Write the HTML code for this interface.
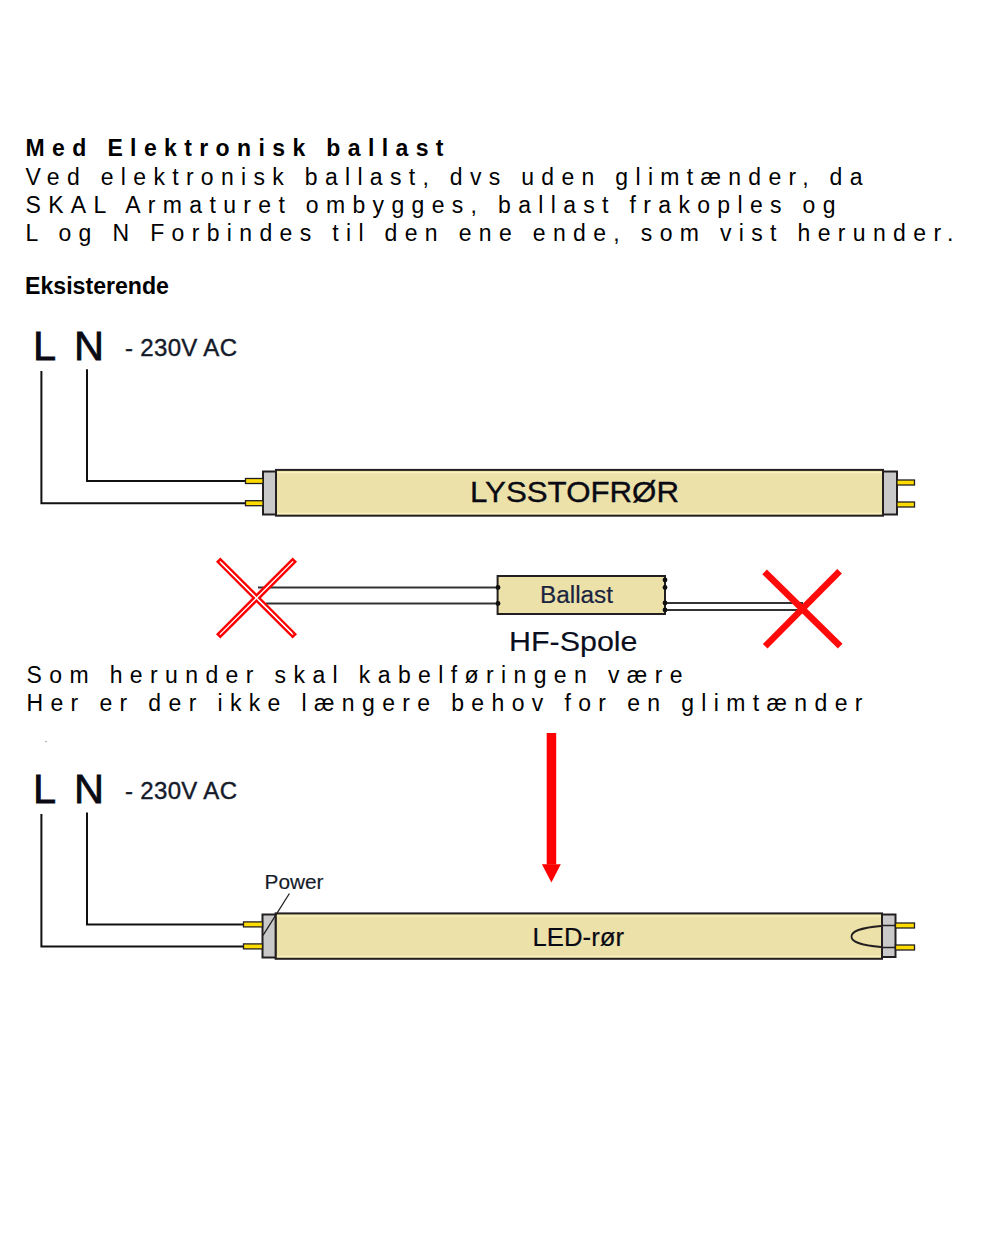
<!DOCTYPE html>
<html><head><meta charset="utf-8">
<style>
html,body{margin:0;padding:0;background:#fff;}
body{width:1000px;height:1239px;overflow:hidden;position:relative;}
svg{position:absolute;left:0;top:0;display:block;}
text{font-family:"Liberation Sans", sans-serif;}
</style></head><body>
<svg width="1000" height="1239" viewBox="0 0 1000 1239">
<!-- Paragraph 1 -->
<g fill="#000">
<text transform="translate(25.5,156) scale(1,1.04)" font-size="23" font-weight="bold" textLength="418" lengthAdjust="spacing">Med Elektronisk ballast</text>
<text transform="translate(25.5,184.6) scale(1,1.03)" font-size="23" textLength="837" lengthAdjust="spacing">Ved elektronisk ballast, dvs uden glimtænder, da</text>
<text transform="translate(25.5,212.6) scale(1,1.03)" font-size="23" textLength="810" lengthAdjust="spacing">SKAL Armaturet ombygges, ballast frakoples og</text>
<text transform="translate(25.5,241.2) scale(1,1.03)" font-size="23" textLength="928" lengthAdjust="spacing">L og N Forbindes til den ene ende, som vist herunder.</text>
<text x="25" y="293.8" font-size="23" font-weight="bold" textLength="144" lengthAdjust="spacingAndGlyphs">Eksisterende</text>
</g>

<!-- Diagram 1 -->
<g id="d1">
<text x="33" y="359.8" font-size="41.5" fill="#0a0a14" stroke="#0a0a14" stroke-width="0.8">L</text>
<text x="74" y="359.8" font-size="41.5" fill="#0a0a14" stroke="#0a0a14" stroke-width="0.8">N</text>
<text x="125" y="356" font-size="24" fill="#141a2a" stroke="#141a2a" stroke-width="0.4" textLength="112" lengthAdjust="spacing">- 230V AC</text>
<polyline points="41.4,371 41.4,503.2 245,503.2" fill="none" stroke="#111" stroke-width="2"/>
<polyline points="87,369.3 87,481 245,481" fill="none" stroke="#111" stroke-width="2"/>
<!-- tube -->
<rect x="276" y="469.9" width="607" height="45.8" fill="#ECE1A9" stroke="#231F20" stroke-width="2"/>
<line x1="277" y1="472.6" x2="882" y2="472.6" stroke="#FAF3BE" stroke-width="1.3"/>
<line x1="277" y1="513.3" x2="882" y2="513.3" stroke="#FAF3BE" stroke-width="1.3"/>
<rect x="263" y="471.5" width="13" height="43" fill="#C9C9C9" stroke="#231F20" stroke-width="2"/>
<rect x="883" y="471.5" width="14" height="43" fill="#C9C9C9" stroke="#231F20" stroke-width="2"/>
<rect x="245.5" y="478.5" width="17.5" height="5" fill="#FFDC00" stroke="#231F20" stroke-width="1.3"/>
<rect x="245.5" y="500.7" width="17.5" height="5" fill="#FFDC00" stroke="#231F20" stroke-width="1.3"/>
<rect x="897" y="480" width="17.5" height="5" fill="#FFDC00" stroke="#231F20" stroke-width="1.3"/>
<rect x="897" y="502" width="17.5" height="5" fill="#FFDC00" stroke="#231F20" stroke-width="1.3"/>
<text x="470" y="502.4" font-size="30" fill="#0a0a14" stroke="#0a0a14" stroke-width="0.35" textLength="209" lengthAdjust="spacingAndGlyphs">LYSSTOFRØR</text>
</g>

<!-- Ballast -->
<g>
<line x1="258" y1="587.5" x2="498" y2="587.5" stroke="#333" stroke-width="2"/>
<line x1="266" y1="603.5" x2="498" y2="603.5" stroke="#333" stroke-width="2"/>
<line x1="665" y1="603" x2="803" y2="603" stroke="#333" stroke-width="2"/>
<line x1="665" y1="610" x2="798" y2="610" stroke="#333" stroke-width="2"/>
<rect x="497.6" y="576" width="167.4" height="38" fill="#ECE1A9" stroke="#231F20" stroke-width="2"/>
<g fill="#111">
<circle cx="498" cy="587.5" r="2.4"/><circle cx="498" cy="603.5" r="2.4"/>
<circle cx="665" cy="580" r="2.4"/><circle cx="665" cy="587.5" r="2.4"/>
<circle cx="665" cy="603" r="2.4"/><circle cx="665" cy="610" r="2.4"/>
</g>
<text x="540" y="603" font-size="23.5" fill="#1a2440" stroke="#1a2440" stroke-width="0.2" textLength="73" lengthAdjust="spacingAndGlyphs">Ballast</text>
<text x="509" y="651" font-size="28.5" fill="#0a0f20" stroke="#0a0f20" stroke-width="0.15" textLength="128.5" lengthAdjust="spacingAndGlyphs">HF-Spole</text>
<!-- left X hollow -->
<g transform="translate(256.5,598)">
<rect x="-53" y="-1.9" width="106" height="3.8" fill="#fff" stroke="#ff0000" stroke-width="2.4" transform="rotate(45)"/>
<rect x="-53" y="-1.9" width="106" height="3.8" fill="#fff" stroke="#ff0000" stroke-width="2.4" transform="rotate(-45)"/>
<rect x="-50" y="-0.7" width="100" height="1.4" fill="#fff" transform="rotate(45)"/>
</g>
<!-- right X solid -->
<g stroke="#ff0a0a" stroke-width="6.6">
<line x1="764.6" y1="571.8" x2="840.2" y2="646.2"/>
<line x1="839.6" y1="571.2" x2="765.2" y2="646.2"/>
</g>
</g>

<!-- Paragraph 2 -->
<g fill="#000">
<text transform="translate(26.5,682.7) scale(1,1.03)" font-size="23" textLength="656" lengthAdjust="spacing">Som herunder skal kabelføringen være</text>
<text transform="translate(26.5,710.8) scale(1,1.03)" font-size="23" textLength="836" lengthAdjust="spacing">Her er der ikke længere behov for en glimtænder</text>
</g>

<!-- Arrow -->
<rect x="546.7" y="733" width="9.5" height="131.5" fill="#ff0000"/>
<polygon points="541.9,864.2 560.8,864.2 551.4,882.6" fill="#ff0000"/>

<!-- Diagram 2 -->
<g>
<circle cx="46" cy="741.5" r="0.8" fill="#999"/>
<text x="33" y="802.9" font-size="41.5" fill="#0a0a14" stroke="#0a0a14" stroke-width="0.8">L</text>
<text x="74" y="802.9" font-size="41.5" fill="#0a0a14" stroke="#0a0a14" stroke-width="0.8">N</text>
<text x="125" y="799" font-size="24" fill="#141a2a" stroke="#141a2a" stroke-width="0.4" textLength="112" lengthAdjust="spacing">- 230V AC</text>
<polyline points="41.4,814 41.4,946.4 243.5,946.4" fill="none" stroke="#111" stroke-width="2"/>
<polyline points="87,812.6 87,924.4 243.5,924.4" fill="none" stroke="#111" stroke-width="2"/>
<rect x="275.6" y="913.4" width="606.4" height="45.4" fill="#ECE1A9" stroke="#231F20" stroke-width="2"/>
<line x1="276.6" y1="916.1" x2="881" y2="916.1" stroke="#FAF3BE" stroke-width="1.3"/>
<line x1="276.6" y1="956.4" x2="881" y2="956.4" stroke="#FAF3BE" stroke-width="1.3"/>
<rect x="262.5" y="914.5" width="13.1" height="43" fill="#C9C9C9" stroke="#231F20" stroke-width="2"/>
<rect x="882" y="914.5" width="13.5" height="42.5" fill="#C9C9C9" stroke="#231F20" stroke-width="2"/>
<rect x="243.5" y="921.9" width="19" height="5" fill="#FFDC00" stroke="#231F20" stroke-width="1.3"/>
<rect x="243.5" y="943.9" width="19" height="5" fill="#FFDC00" stroke="#231F20" stroke-width="1.3"/>
<rect x="895.5" y="923" width="19" height="5" fill="#FFDC00" stroke="#231F20" stroke-width="1.3"/>
<rect x="895.5" y="945" width="19" height="5" fill="#FFDC00" stroke="#231F20" stroke-width="1.3"/>
<line x1="882" y1="925.5" x2="895.5" y2="925.5" stroke="#231F20" stroke-width="1.5"/>
<line x1="882" y1="947.5" x2="895.5" y2="947.5" stroke="#231F20" stroke-width="1.5"/>
<path d="M881,926 C860,928 851.5,931 851.5,936.5 C851.5,942 860,945 881,947" fill="none" stroke="#231F20" stroke-width="1.8"/>
<line x1="289.4" y1="893.5" x2="263" y2="935.4" stroke="#231F20" stroke-width="1.3"/>
<text x="264.5" y="888.6" font-size="19.5" fill="#141a2a" stroke="#141a2a" stroke-width="0.15" textLength="59" lengthAdjust="spacingAndGlyphs">Power</text>
<text x="532.5" y="945.8" font-size="25.5" fill="#0a0a14" stroke="#0a0a14" stroke-width="0.2" textLength="91.5" lengthAdjust="spacingAndGlyphs">LED-rør</text>
</g>
</svg>
</body></html>
